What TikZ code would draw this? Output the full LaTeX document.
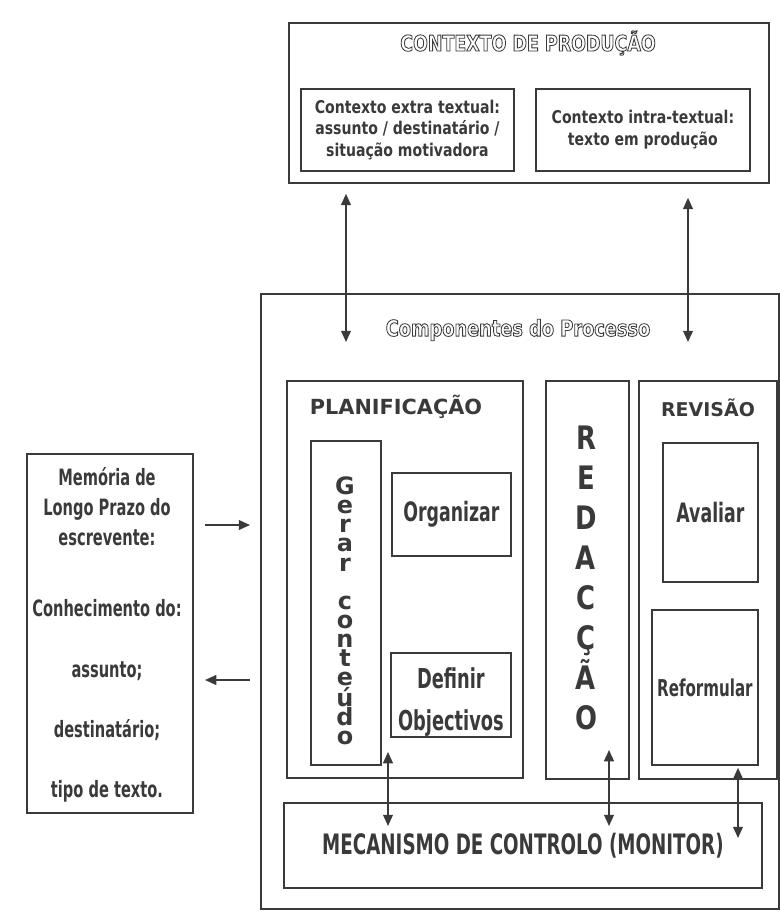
\documentclass[tikz,border=0pt]{standalone}
\usepackage{fontspec}
\setmainfont{DejaVu Sans}
\newfontfamily\tahfont[FakeStretch=0.8]{DejaVu Sans}
\newfontfamily\condfont[FakeStretch=0.65]{DejaVu Sans}
\usetikzlibrary{arrows.meta,positioning}
\definecolor{ink}{HTML}{3A3A3A}
\newdimen\pu \pu=0.025cm
\newcommand{\outlined}[1]{\special{pdf:literal direct 1 Tr 0.6 w}#1\special{pdf:literal direct 0 Tr}}

\begin{document}
\begin{tikzpicture}[
			x=0.025cm, y=-0.025cm,
			every node/.style={text=ink},
			box/.style={rectangle, draw=ink, line width=1.3pt, anchor=north west, inner sep=0pt, align=center},
			label/.style={font=\tahfont\bfseries\fontsize{12.5}{15.5}\selectfont},
			cond/.style={font=\condfont\bfseries\fontsize{19}{21}\selectfont},
			title/.style={font=\bfseries\fontsize{14.8}{17}\selectfont},
			arrow/.style={draw=ink, line width=1pt, -{Triangle[length=8pt,width=7pt]}},
			dblarrow/.style={draw=ink, line width=1pt, {Triangle[length=8pt,width=7pt]}-{Triangle[length=8pt,width=7pt]}}
			]
			\useasboundingbox (0,0) rectangle (780,918);
			
			% contexto
			\node (ctx) [box, minimum width=480\pu, minimum height=160\pu] at (288,22) {};
			\node (ctxtitle) [font=\tahfont\bfseries\fontsize{15.5}{18}\selectfont] at (528,43) {\outlined{CONTEXTO DE PRODUÇÃO}};
			\node (extra) [box, label, minimum width=213\pu, minimum height=82\pu] at (300,88) {Contexto extra textual:\\assunto / destinatário /\\situação motivadora};
			\node (intra) [box, label, minimum width=214\pu, minimum height=82\pu] at (535,88) {Contexto intra-textual:\\texto em produção};
			
			% componentes
			\node (comp) [box, minimum width=518\pu, minimum height=615\pu] at (260,293) {};
			\node (comptitle) [font=\tahfont\bfseries\fontsize{15.8}{18}\selectfont] at (518,330) {\outlined{Componentes do Processo}};
			
			\node (plan) [box, minimum width=236\pu, minimum height=397\pu] at (286,380) {};
			\node (plantitle) [title] at (396,407) {PLANIFICAÇÃO};
			\node (gerar) [box, minimum width=70\pu, minimum height=324\pu] at (310,440) {};
			\node (gerartxt) [align=center, font=\bfseries\fontsize{17}{13.6}\selectfont] at (345,611) {G\\e\\r\\a\\r\\[13.6pt]c\\o\\n\\t\\e\\ú\\d\\o};
			\node (org) [box, cond, minimum width=119\pu, minimum height=83\pu] at (391,472) {Organizar};
			\node (def) [box, cond, font=\condfont\bfseries\fontsize{19.5}{30}\selectfont, minimum width=120\pu, minimum height=84\pu] at (390,652) {\mbox{}\\[-5pt]Definir\\Objectivos};
			
			\node (red) [box, minimum width=83\pu, minimum height=398\pu] at (545,380) {};
			\node (redtxt) [align=center, font=\tahfont\bfseries\fontsize{23}{28.4}\selectfont] at (586,578) {R\\E\\D\\A\\C\\Ç\\Ã\\O};
			
			\node (rev) [box, minimum width=138\pu, minimum height=398\pu] at (638,380) {};
			\node (revtitle) [title, font=\bfseries\fontsize{13.5}{16}\selectfont] at (708,408) {REVISÃO};
			\node (aval) [box, cond, minimum width=95\pu, minimum height=139\pu] at (662,442) {Avaliar};
			\node (reform) [box, cond, font=\condfont\bfseries\fontsize{16.5}{18}\selectfont, minimum width=106\pu, minimum height=155\pu] at (651,609) {Reformular};
			
			\node (mec) [box, font=\condfont\bfseries\fontsize{20}{22}\selectfont, minimum width=478\pu, minimum height=85\pu] at (283,802) {MECANISMO DE CONTROLO (MONITOR)};
			
			% memoria
			\node (mem) [box, minimum width=166\pu, minimum height=359\pu] at (26,453) {};
			\node (memtxt) [align=center, font=\condfont\bfseries\fontsize{16}{21.3}\selectfont] at (107,635) {Memória de\\Longo Prazo do\\escrevente:\\[29pt]Conhecimento do:\\[22pt]assunto;\\[21.7pt]destinatário;\\[21.5pt]tipo de texto.};
			
			% setas
			\coordinate (b1) at (346,342);
			\coordinate (b2) at (688,342);
			\draw [dblarrow, shorten <=0.25cm] (ctx.south -| b1) -- (b1);
			\draw [dblarrow, shorten <=0.35cm] (ctx.south -| b2) -- (b2);
			
			\coordinate (m1) at (250,525);
			\coordinate (m2) at (250,680);
			\draw [arrow, shorten <=0.28cm] (mem.east |- m1) -- (m1);
			\draw [arrow, shorten >=0.28cm] (m2) -- (mem.east |- m2);
			
			\coordinate (p1) at (388,752);
			\coordinate (q1) at (388,826);
			\coordinate (p2) at (609,750);
			\coordinate (q2) at (609,826);
			\coordinate (q3) at (738,838);
			\draw [dblarrow] (p1) -- (q1);
			\draw [dblarrow] (p2) -- (q2);
			\draw [dblarrow, shorten <=0.05cm] (reform.south -| q3) -- (q3);
			
		\end{tikzpicture}
\end{document}
